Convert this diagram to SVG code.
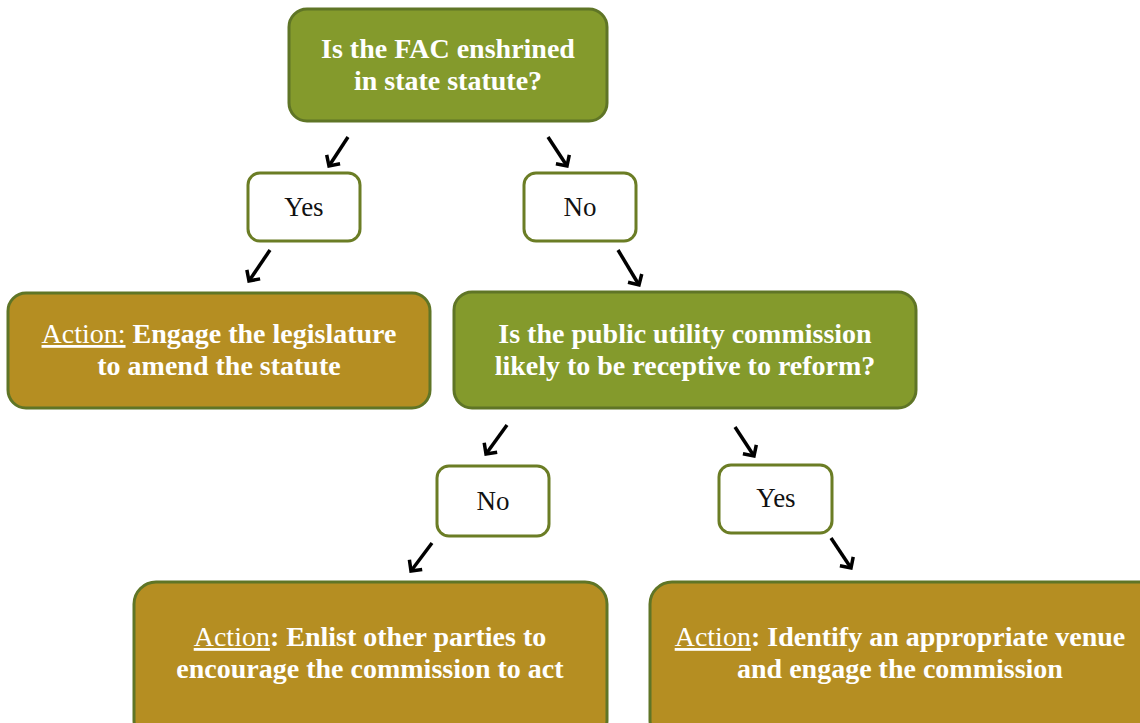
<svg xmlns="http://www.w3.org/2000/svg" width="1140" height="723" viewBox="0 0 1140 723">
<style>
.q{fill:#849a2c;stroke:#5f7526;stroke-width:3}
.a{fill:#b58e22;stroke:#5f7526;stroke-width:3}
.l{fill:#ffffff;stroke:#6b7d25;stroke-width:3}
.wt{font-family:"Liberation Serif","Times New Roman",serif;font-weight:bold;font-size:28px;fill:#ffffff;text-anchor:middle}
.bt{font-family:"Liberation Serif","Times New Roman",serif;font-size:27px;fill:#111111;text-anchor:middle}
.u{text-decoration:underline;font-weight:normal}
.c{fill:none;stroke:#000000;stroke-width:3.5;marker-end:url(#ah)}
</style>
<defs>
<marker id="ah" viewBox="0 0 12 16" refX="10" refY="8" markerWidth="12" markerHeight="16" markerUnits="userSpaceOnUse" orient="auto" overflow="visible">
<path d="M2,0 L10,8 L2,16" fill="none" stroke="#000" stroke-width="3.5"/>
</marker>
</defs>
<rect width="1140" height="723" fill="#ffffff"/>
<g id="q1">
<rect class="q" x="289" y="9" width="318" height="112" rx="18"/>
<text class="wt" x="448" y="58">Is the FAC enshrined</text>
<text class="wt" x="448" y="90">in state statute?</text>
</g>
<g id="yes1">
<rect class="l" x="248" y="173" width="112" height="68" rx="12"/>
<text class="bt" x="304" y="216">Yes</text>
</g>
<g id="no1">
<rect class="l" x="524" y="173" width="112" height="68" rx="12"/>
<text class="bt" x="580" y="216">No</text>
</g>
<g id="action1">
<rect class="a" x="8" y="293" width="422" height="115" rx="18"/>
<text class="wt" x="219" y="343"><tspan class="u">Action:</tspan> Engage the legislature</text>
<text class="wt" x="219" y="375">to amend the statute</text>
</g>
<g id="q2">
<rect class="q" x="454" y="292" width="462" height="116" rx="18"/>
<text class="wt" x="685" y="343">Is the public utility commission</text>
<text class="wt" x="685" y="375">likely to be receptive to reform?</text>
</g>
<g id="no2">
<rect class="l" x="437" y="466" width="112" height="70" rx="12"/>
<text class="bt" x="493" y="510">No</text>
</g>
<g id="yes2">
<rect class="l" x="719" y="465" width="113" height="68" rx="12"/>
<text class="bt" x="776" y="507">Yes</text>
</g>
<g id="action2">
<rect class="a" x="134" y="582" width="473" height="160" rx="22"/>
<text class="wt" x="370" y="646"><tspan class="u">Action</tspan>: Enlist other parties to</text>
<text class="wt" x="370" y="678">encourage the commission to act</text>
</g>
<g id="action3">
<rect class="a" x="650" y="582" width="510" height="160" rx="22"/>
<text class="wt" x="900" y="646"><tspan class="u">Action</tspan>: Identify an appropriate venue</text>
<text class="wt" x="900" y="678">and engage the commission</text>
</g>
<g id="connectors">
<line class="c" x1="348" y1="137" x2="329" y2="166"/>
<line class="c" x1="548" y1="137" x2="567" y2="166"/>
<line class="c" x1="270" y1="250" x2="249" y2="281"/>
<line class="c" x1="618" y1="250" x2="639" y2="285"/>
<line class="c" x1="507" y1="425" x2="486" y2="454"/>
<line class="c" x1="735" y1="427" x2="754" y2="456"/>
<line class="c" x1="432" y1="543" x2="411" y2="571"/>
<line class="c" x1="831" y1="538" x2="851" y2="568"/>
</g>
</svg>
